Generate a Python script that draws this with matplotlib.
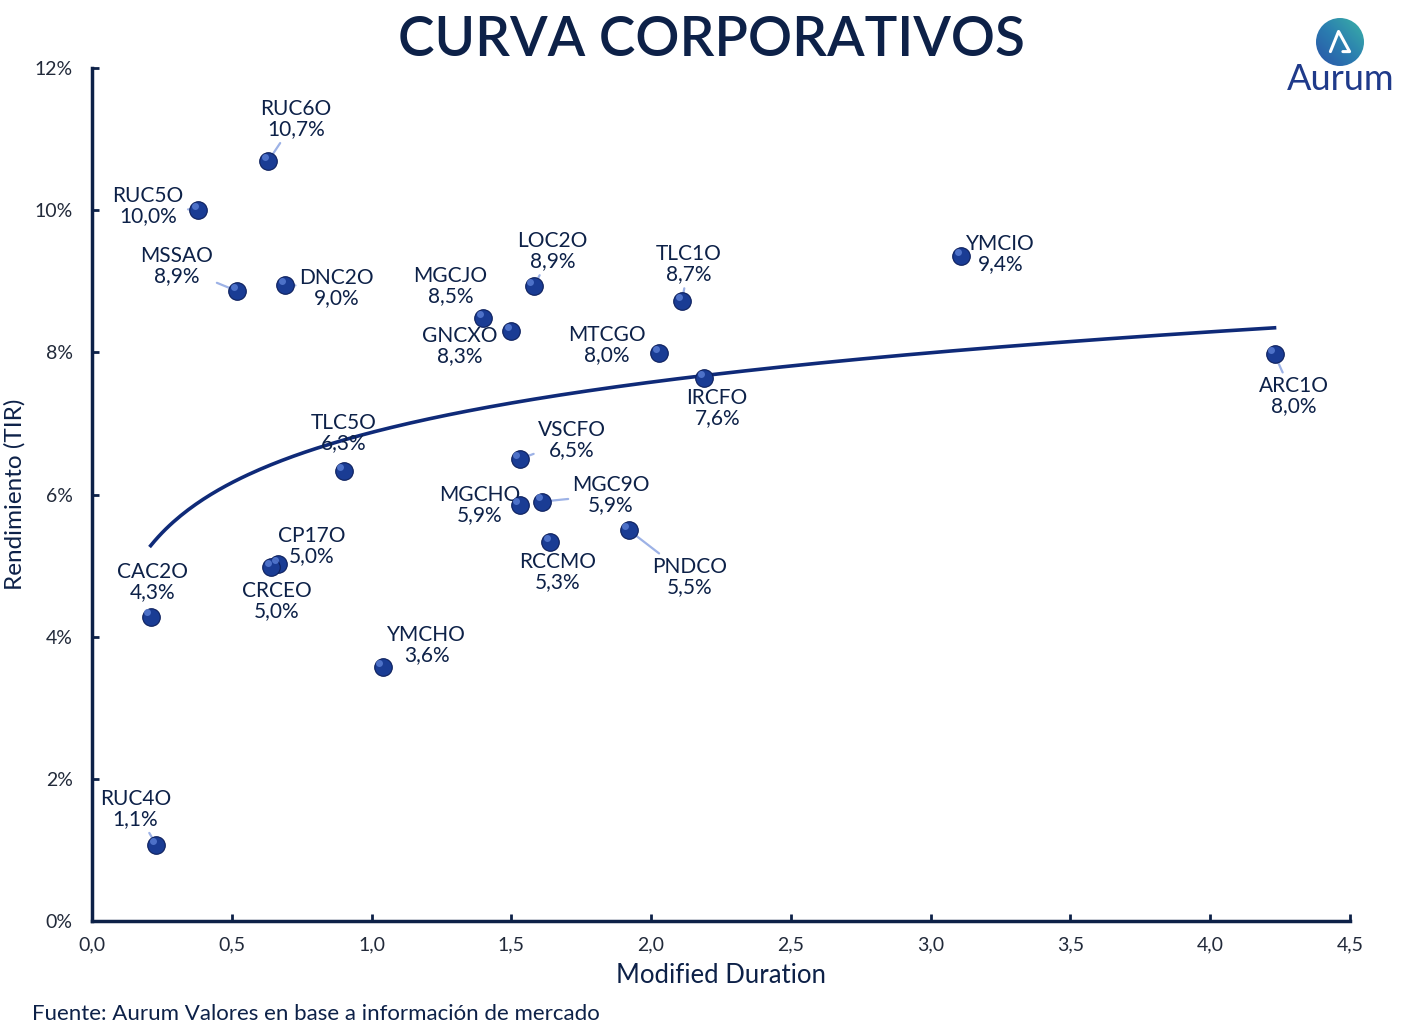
import numpy as np
import matplotlib
matplotlib.use("Agg")
import matplotlib.pyplot as plt
from matplotlib.patches import Circle
from matplotlib.colors import LinearSegmentedColormap

plt.rcParams['font.family'] = ['Lato', 'DejaVu Sans']

# Bond data
names = ['RUC6O', 'RUC5O', 'MSSAO', 'DNC2O', 'MGCJO', 'GNCXO', 'LOC2O', 'TLC1O',
         'MTCGO', 'IRCFO', 'YMCIO', 'ARC1O', 'TLC5O', 'VSCFO', 'MGCHO', 'MGC9O',
         'RCCMO', 'PNDCO', 'CP17O', 'CRCEO', 'CAC2O', 'YMCHO', 'RUC4O']
duration = [0.63, 0.38, 0.52, 0.69, 1.40, 1.50, 1.58, 2.11,
            2.03, 2.19, 3.11, 4.23, 0.90, 1.53, 1.53, 1.61,
            1.64, 1.92, 0.665, 0.64, 0.21, 1.04, 0.23]
tir = [10.7, 10.0, 8.9, 9.0, 8.5, 8.3, 8.9, 8.7,
       8.0, 7.6, 9.4, 8.0, 6.3, 6.5, 5.9, 5.9,
       5.3, 5.5, 5.0, 5.0, 4.3, 3.6, 1.1]
# yields as plotted (slightly finer than the labels)
tir_plot = [10.69, 10.0, 8.86, 8.95, 8.48, 8.30, 8.93, 8.72,
            7.99, 7.64, 9.35, 7.97, 6.33, 6.50, 5.85, 5.90,
            5.33, 5.50, 5.02, 4.98, 4.28, 3.57, 1.07]

# label offsets in pixels (dx, dy) and whether a leader line is drawn
offsets = {
    'RUC6O': (28, 42, True), 'RUC5O': (-50, 4, True), 'MSSAO': (-61, 25, True),
    'DNC2O': (52, -3, True), 'MGCJO': (-33, 32, False), 'GNCXO': (-52, -15, False),
    'LOC2O': (19, 35, True), 'TLC1O': (7, 37, True), 'MTCGO': (-53, 8, False),
    'IRCFO': (13, -30, False), 'YMCIO': (39, 2, False), 'ARC1O': (19, -42, True),
    'TLC5O': (0, 38, False), 'VSCFO': (52, 19, True), 'MGCHO': (-40, 0, False),
    'MGC9O': (69, 7, True), 'RCCMO': (7, -30, False), 'PNDCO': (61, -47, True),
    'CP17O': (34, 18, False), 'CRCEO': (6, -34, False), 'CAC2O': (2, 35, False),
    'YMCHO': (44, 22, False), 'RUC4O': (-21, 36, True),
}

navy = '#0d2148'
dot = '#1a3c94'
leader = '#9db2e6'

W, H = 1422, 1033
fig = plt.figure(figsize=(W / 100, H / 100), dpi=100)
ax = fig.add_axes([92 / W, 1 - 921 / H, (1350 - 92) / W, (921 - 68) / H])

# logarithmic trend line fitted on the data
x = np.array(duration)
y = np.array(tir_plot)
b, a = np.polyfit(np.log(x), y, 1)
xt = np.linspace(x.min(), x.max(), 300)
ax.plot(xt, a + b * np.log(xt), color='#0f2a78', lw=2.6, zorder=2)

ax.scatter(x, y, s=160, color=dot, edgecolor='#0c1f5c', linewidth=0.8, zorder=4)
ax.scatter(x - 0.012, y + 0.06, s=25, color='#5b7fd6', linewidth=0, zorder=5, alpha=0.8)

for n, xi, yi, v in zip(names, duration, tir_plot, tir):
    dx, dy, has_line = offsets[n]
    label = f"{n}\n{v:.1f}%".replace('.', ',')
    props = None
    if has_line:
        props = dict(arrowstyle='-', color=leader, lw=1.6, shrinkA=1, shrinkB=2)
    ax.annotate(label, (xi, yi), xytext=(dx, dy), textcoords='offset pixels',
                ha='center', va='center', fontsize=15, color=navy,
                linespacing=1.0, arrowprops=props, zorder=3)

ax.set_xlim(0, 4.5)
ax.set_ylim(0, 12)
ax.set_xticks(np.arange(0, 4.51, 0.5))
ax.set_xticklabels([f"{t:.1f}".replace('.', ',') for t in np.arange(0, 4.51, 0.5)])
ax.set_yticks(np.arange(0, 13, 2))
ax.set_yticklabels([f"{t}%" for t in range(0, 13, 2)])
for s in ['top', 'right']:
    ax.spines[s].set_visible(False)
for s in ['left', 'bottom']:
    ax.spines[s].set_color(navy)
    ax.spines[s].set_linewidth(2.5)
ax.tick_params(direction='in', length=5, width=2, color=navy, labelcolor='#222a3a',
               labelsize=14)
ax.tick_params(axis='x', pad=11)
ax.tick_params(axis='y', pad=14)
ax.set_xlabel('Modified Duration', fontsize=18.5, color=navy, labelpad=7)
ax.set_ylabel('Rendimiento (TIR)', fontsize=17.5, color=navy, labelpad=6)

fig.text(0.5, 1 - 40 / H, 'CURVA CORPORATIVOS', ha='center', va='center',
         fontsize=39.5, color=navy, fontweight='semibold')
fig.text(32 / W, 1 - 1014 / H, 'Fuente: Aurum Valores en base a información de mercado',
         ha='left', va='center', fontsize=16, color=navy)

# logo: gradient circle with white chevron, then the brand name
lax = fig.add_axes([1316 / W, 1 - 66 / H, 48 / W, 48 / H])
lax.axis('off')
lax.set_xlim(0, 1)
lax.set_ylim(0, 1)
cmap = LinearSegmentedColormap.from_list('logo', ['#2a54a8', '#2b7fb0', '#3bb3a6'])
g = np.linspace(0, 1, 64)
gx, gy = np.meshgrid(g, g)
img = lax.imshow(gx + gy, extent=(0, 1, 0, 1), cmap=cmap, origin='lower',
                 aspect='auto', vmin=0, vmax=2)
img.set_clip_path(Circle((0.5, 0.5), 0.5, transform=lax.transAxes))
lax.plot([0.30, 0.47, 0.70, 0.56], [0.30, 0.72, 0.30, 0.30], color='white', lw=2.2,
         solid_capstyle='round', solid_joinstyle='round')
fig.text(1341 / W, 1 - 80 / H, 'Aurum', ha='center', va='center', fontsize=26,
         color='#1f3a8a')

fig.savefig('out.png', dpi=100)
